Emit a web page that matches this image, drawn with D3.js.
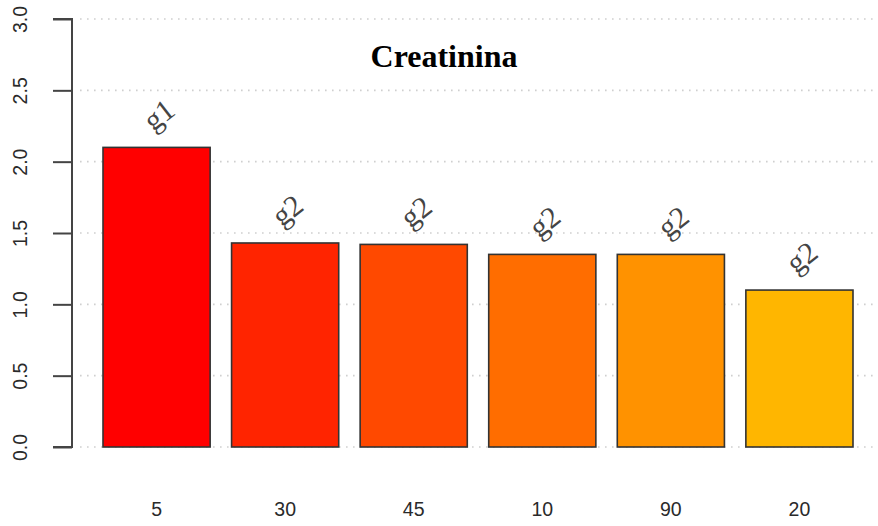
<!DOCTYPE html>
<html>
<head>
<meta charset="utf-8">
<script src="https://cdn.jsdelivr.net/npm/d3@7"></script>
<style>
  body { margin: 0; background: #fff; }
  svg { display: block; }
</style>
</head>
<body>
<svg width="878" height="526"></svg>
<script>
// données
const categories = ["5", "30", "45", "10", "90", "20"];
const valeurs = [2.1, 1.43, 1.42, 1.35, 1.35, 1.1];
const groupes = ["g1", "g2", "g2", "g2", "g2", "g2"];
const couleurs = ["#FF0000", "#FF2400", "#FF4900", "#FF6D00", "#FF9200", "#FFB600"];
const yTicks = [0, 0.5, 1, 1.5, 2, 2.5, 3];

const svg = d3.select("svg");
const width = 878, height = 526;

const x = d3.scaleBand().domain(categories).range([103, 853])
            .paddingInner(0.2 / 1.2).paddingOuter(0);
const y = d3.scaleLinear().domain([0, 3]).range([447, 19]);

// grille pointillée
svg.append("g")
   .selectAll("line")
   .data(yTicks)
   .join("line")
   .attr("x1", 80).attr("x2", width)
   .attr("y1", d => y(d)).attr("y2", d => y(d))
   .attr("stroke", "#cfcfcf")
   .attr("stroke-width", 1.6)
   .attr("stroke-dasharray", "1.6,5.4");

// axe y
const axeY = d3.axisLeft(y).tickValues(yTicks).tickSize(19).tickFormat(d3.format(".1f"));
const gy = svg.append("g").attr("transform", "translate(72,0)").call(axeY);
gy.select(".domain").attr("stroke", "#444").attr("stroke-width", 2)
  .attr("d", `M-19,${y(3)}H0V${y(0)}H-19`);
gy.selectAll(".tick line").attr("stroke", "#444").attr("stroke-width", 2);
gy.selectAll(".tick text")
  .attr("x", 0).attr("y", 0).attr("dy", null)
  .attr("text-anchor", "middle")
  .attr("transform", "translate(-45,0) rotate(-90)")
  .attr("font-family", "'Liberation Sans', Arial, sans-serif")
  .attr("font-size", 19.5)
  .attr("fill", "#2a2a2a");

// barres
svg.append("g")
   .selectAll("rect")
   .data(valeurs)
   .join("rect")
   .attr("x", (d, i) => x(categories[i]))
   .attr("y", d => y(d))
   .attr("width", x.bandwidth())
   .attr("height", d => y(0) - y(d))
   .attr("fill", (d, i) => couleurs[i])
   .attr("stroke", "#333")
   .attr("stroke-width", 1.6);

// étiquettes des groupes
svg.append("g")
   .selectAll("text")
   .data(valeurs)
   .join("text")
   .attr("transform", (d, i) =>
        `translate(${x(categories[i]) + x.bandwidth() / 2 + 2},${y(d) - 33}) rotate(-38)`)
   .attr("text-anchor", "middle")
   .attr("dominant-baseline", "central")
   .attr("font-family", "'Liberation Serif', 'Times New Roman', serif")
   .attr("font-size", 30)
   .attr("fill", "#444")
   .text((d, i) => groupes[i]);

// étiquettes x
svg.append("g")
   .selectAll("text")
   .data(categories)
   .join("text")
   .attr("x", d => x(d) + x.bandwidth() / 2)
   .attr("y", 516)
   .attr("text-anchor", "middle")
   .attr("font-family", "'Liberation Sans', Arial, sans-serif")
   .attr("font-size", 19.5)
   .attr("fill", "#2a2a2a")
   .text(d => d);

// titre
svg.append("text")
   .attr("x", 444).attr("y", 67)
   .attr("text-anchor", "middle")
   .attr("font-family", "'Liberation Serif', 'Times New Roman', serif")
   .attr("font-weight", "bold")
   .attr("font-size", 32)
   .attr("fill", "#000")
   .text("Creatinina");
</script>
</body>
</html>
